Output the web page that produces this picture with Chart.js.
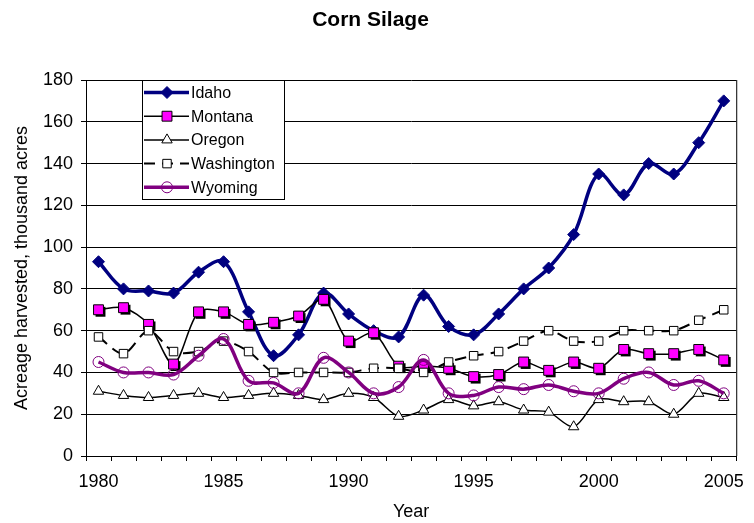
<!DOCTYPE html>
<html>
<head>
<meta charset="utf-8">
<title>Corn Silage</title>
<script src="https://cdn.jsdelivr.net/npm/chart.js@4.4.1/dist/chart.umd.min.js"></script>
<style>
  body { margin: 0; background: #fff; }
  #wrap { width: 754px; height: 523px; }
</style>
</head>
<body>
<div id="wrap"><canvas id="cornChart" width="754" height="523"></canvas></div>
<script>
// values, thousand acres
const years = ['1980','1981','1982','1983','1984','1985','1986','1987','1988','1989','1990','1991','1992',
               '1993','1994','1995','1996','1997','1998','1999','2000','2001','2002','2003','2004','2005'];
const idaho      = [93, 80, 79, 78, 88, 93, 69, 48, 58, 78, 68, 60, 57, 77, 62, 58, 68, 80, 90, 106, 135, 125, 140, 135, 150, 170];
const montana    = [70, 71, 63, 44, 69, 69, 63, 64, 67, 75, 55, 59, 43, 43, 42, 38, 39, 45, 41, 45, 42, 51, 49, 49, 51, 46];
const oregon     = [31, 29, 28, 29, 30, 28, 29, 30, 29, 27, 30, 28, 19, 22, 27, 24, 26, 22, 21, 14, 27, 26, 26, 20, 30, 28];
const washington = [57, 49, 60, 50, 50, 55, 50, 40, 40, 40, 40, 42, 42, 40, 45, 48, 50, 55, 60, 55, 55, 60, 60, 60, 65, 70];
const wyoming    = [45, 40, 40, 39, 48, 56, 36, 35, 30, 47, 40, 30, 33, 46, 30, 29, 33, 32, 34, 31, 30, 37, 40, 34, 36, 30];
const yTicks = [0, 20, 40, 60, 80, 100, 120, 140, 160, 180];

const FONT = "'Liberation Sans', Arial, sans-serif";

// black drop shadow under the Montana squares, like the Excel original
const markerShadow = {
  id: 'markerShadow',
  beforeDatasetDraw(chart, args) {
    const ds = chart.data.datasets[args.index];
    if (!ds.shadow) return;
    const ctx = chart.ctx;
    const s = ds.pointRadius * Math.SQRT1_2;
    ctx.save();
    ctx.fillStyle = '#000';
    args.meta.data.forEach(pt => {
      ctx.fillRect(pt.x - s + 2, pt.y - s + 2, 2 * s, 2 * s);
    });
    ctx.restore();
  }
};

// right edge of the plot frame
const plotFrame = {
  id: 'plotFrame',
  beforeDatasetsDraw(chart) {
    const {ctx, chartArea} = chart;
    ctx.save();
    ctx.strokeStyle = '#000';
    ctx.lineWidth = 1;
    ctx.beginPath();
    ctx.moveTo(chartArea.right + 0.5, chartArea.top);
    ctx.lineTo(chartArea.right + 0.5, chartArea.bottom);
    ctx.stroke();
    ctx.restore();
  }
};

function drawMarker(ctx, ds, x, y) {
  ctx.save();
  ctx.setLineDash([]);
  ctx.fillStyle = ds.pointBackgroundColor;
  ctx.strokeStyle = ds.pointBorderColor;
  ctx.lineWidth = ds.pointBorderWidth;
  Chart.helpers.drawPoint(ctx, {
    pointStyle: ds.pointStyle,
    radius: ds.pointRadius,
    rotation: 0,
    borderWidth: ds.pointBorderWidth
  }, x, y);
  ctx.restore();
}

// legend box sitting inside the plot, top left
const insideLegend = {
  id: 'insideLegend',
  afterDraw(chart) {
    const {ctx, chartArea} = chart;
    const left = chartArea.left + 56, top = chartArea.top;
    const w = 142, h = 119, rowH = 23.7;
    ctx.save();
    ctx.fillStyle = '#fff';
    ctx.fillRect(left, top, w, h);
    ctx.strokeStyle = '#000';
    ctx.lineWidth = 1;
    ctx.strokeRect(left + 0.5, top + 0.5, w, h);
    chart.data.datasets.forEach((ds, i) => {
      const y = top + 12.5 + i * rowH;
      ctx.save();
      ctx.strokeStyle = ds.borderColor;
      ctx.lineWidth = ds.borderWidth;
      ctx.setLineDash(ds.borderDash || []);
      ctx.beginPath();
      ctx.moveTo(left + 2, y);
      ctx.lineTo(left + 47, y);
      ctx.stroke();
      ctx.restore();
      drawMarker(ctx, ds, left + 25, y);
      ctx.fillStyle = '#000';
      ctx.font = '16px ' + FONT;
      ctx.textBaseline = 'middle';
      ctx.textAlign = 'left';
      ctx.fillText(ds.label, left + 49, y + 1);
    });
    ctx.restore();
  }
};

const ctx = document.getElementById('cornChart').getContext('2d');
const cornChart = new Chart(ctx, {
  type: 'line',
  data: {
    labels: years,
    datasets: [
      {
        label: 'Idaho', data: idaho, order: 4,
        borderColor: '#000080', borderWidth: 3.5, tension: 0.35,
        pointStyle: 'rectRot', pointRadius: 6,
        pointBackgroundColor: '#000080', pointBorderColor: '#000080', pointBorderWidth: 1
      },
      {
        label: 'Montana', data: montana, order: 3, shadow: true,
        borderColor: '#000', borderWidth: 1.5, tension: 0.3,
        pointStyle: 'rect', pointRadius: 7,
        pointBackgroundColor: '#ff00ff', pointBorderColor: '#000', pointBorderWidth: 1
      },
      {
        label: 'Oregon', data: oregon, order: 2,
        borderColor: '#000', borderWidth: 1.5, tension: 0.3,
        pointStyle: 'triangle', pointRadius: 6,
        pointBackgroundColor: '#fff', pointBorderColor: '#000', pointBorderWidth: 1
      },
      {
        label: 'Washington', data: washington, order: 1,
        borderColor: '#000', borderWidth: 2, borderDash: [11, 7], tension: 0.3,
        pointStyle: 'rect', pointRadius: 6,
        pointBackgroundColor: '#fff', pointBorderColor: '#000', pointBorderWidth: 1
      },
      {
        label: 'Wyoming', data: wyoming, order: 0,
        borderColor: '#800080', borderWidth: 3.5, tension: 0.35,
        pointStyle: 'circle', pointRadius: 5.5,
        pointBackgroundColor: 'rgba(0,0,0,0)', pointBorderColor: '#800080', pointBorderWidth: 1
      }
    ]
  },
  options: {
    responsive: false,
    animation: false,
    layout: { padding: { top: 0, right: 13, bottom: 0, left: 0 } },
    plugins: {
      legend: { display: false },
      tooltip: { enabled: false },
      title: {
        display: true,
        text: 'Corn Silage',
        color: '#000',
        font: { family: FONT, size: 21, weight: 'bold' },
        padding: { top: 8, bottom: 46.8 }
      }
    },
    scales: {
      x: {
        type: 'category',
        offset: true,
        afterFit(scale) { scale.height = 67; },
        grid: { display: true, offset: true, drawOnChartArea: false, tickLength: 5, color: '#000' },
        border: { display: true, color: '#000', width: 1 },
        ticks: {
          autoSkip: false, maxRotation: 0, minRotation: 0, padding: 10,
          color: '#000', font: { family: FONT, size: 18 },
          callback: function(value, index) {
            const y = years[index];
            return Number(y) % 5 === 0 ? y : '';
          }
        },
        title: {
          display: true, text: 'Year', color: '#000',
          font: { family: FONT, size: 18 }, padding: { top: 0, bottom: 0 }
        }
      },
      y: {
        min: yTicks[0],
        max: yTicks[yTicks.length - 1],
        afterFit(scale) { scale.width = 86; },
        afterBuildTicks(scale) { scale.ticks = yTicks.map(v => ({ value: v })); },
        grid: { color: '#000', lineWidth: 1, tickLength: 5 },
        border: { display: true, color: '#000', width: 1 },
        ticks: { padding: 8, color: '#000', font: { family: FONT, size: 18 } },
        title: {
          display: true, text: 'Acreage harvested, thousand acres', color: '#000',
          font: { family: FONT, size: 18 }, padding: { top: 11, bottom: 0 }
        }
      }
    }
  },
  plugins: [markerShadow, plotFrame, insideLegend]
});
</script>
</body>
</html>
